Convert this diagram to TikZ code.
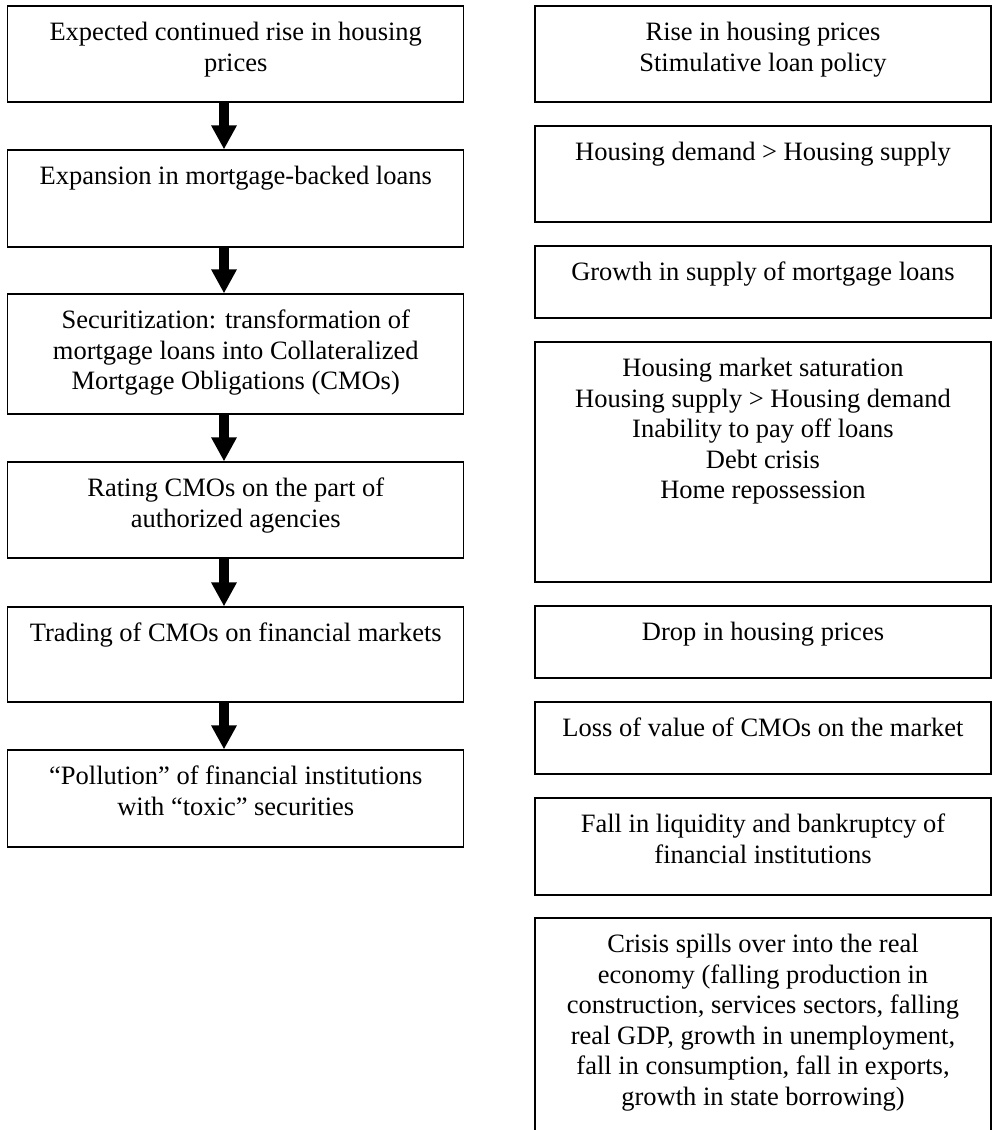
\documentclass[tikz,border=0pt]{standalone}
\usepackage{fontspec}
\setmainfont{Liberation Serif}
\usetikzlibrary{arrows.meta}
\begin{document}
\begin{tikzpicture}[x=1pt, y=-1pt,
    box/.style={draw, line width=1.2pt, rectangle, inner sep=0pt, minimum width=456pt},
    txt/.style={anchor=north, align=center, inner sep=0pt, font=\fontsize{26.5}{30.5}\selectfont},
    arr/.style={line width=10pt, -{Triangle[width=24pt, length=24pt]}}]
    \path[use as bounding box, clip] (0,0) rectangle (992,1130);
    % left column
    \node[box, minimum height=96pt] (l1) at (235.75,54) {};
    \node[box, minimum height=97pt] (l2) at (235.75,198.5) {};
    \node[box, minimum height=120pt] (l3) at (235.75,354) {};
    \node[box, minimum height=96pt] (l4) at (235.75,510) {};
    \node[box, minimum height=95pt] (l5) at (235.75,654.5) {};
    \node[box, minimum height=97pt] (l6) at (235.75,798.5) {};
    \node[txt] (l1t) at ([yshift=-13.65pt]l1.north) {\strut Expected continued rise in housing\\ prices};
    \node[txt] (l2t) at ([yshift=-13.65pt]l2.north) {\strut Expansion in mortgage-backed loans};
    \node[txt] (l3t) at ([yshift=-13.65pt]l3.north) {\strut Securitization: transformation of\\ mortgage loans into Collateralized\\ Mortgage Obligations (CMOs)};
    \node[txt] (l4t) at ([yshift=-13.65pt]l4.north) {\strut Rating CMOs on the part of\\ authorized agencies};
    \node[txt] (l5t) at ([yshift=-13.65pt]l5.north) {\strut Trading of CMOs on financial markets};
    \node[txt] (l6t) at ([yshift=-13.65pt]l6.north) {\strut ``Pollution'' of financial institutions\\ with ``toxic'' securities};
    \foreach \a/\b in {l1/l2, l2/l3, l3/l4, l4/l5, l5/l6}
        \draw[arr] ([xshift=-11.75pt]\a.south) -- ([xshift=-11.75pt]\b.north);
    % right column
    \node[box, minimum height=96pt] (r1) at (763,54) {};
    \node[box, minimum height=96pt] (r2) at (763,174) {};
    \node[box, minimum height=72pt] (r3) at (763,282) {};
    \node[box, minimum height=240pt] (r4) at (763,462) {};
    \node[box, minimum height=72pt] (r5) at (763,642) {};
    \node[box, minimum height=72pt] (r6) at (763,738) {};
    \node[box, minimum height=97pt] (r7) at (763,846.5) {};
    \node[box, minimum height=232pt] (r8) at (763,1034) {};
    \node[txt] (r1t) at ([yshift=-13.65pt]r1.north) {\strut Rise in housing prices\\ Stimulative loan policy};
    \node[txt] (r2t) at ([yshift=-13.65pt]r2.north) {\strut Housing demand > Housing supply};
    \node[txt] (r3t) at ([yshift=-13.65pt]r3.north) {\strut Growth in supply of mortgage loans};
    \node[txt] (r4t) at ([yshift=-13.65pt]r4.north) {\strut Housing market saturation\\ Housing supply > Housing demand\\ Inability to pay off loans\\ Debt crisis\\ Home repossession};
    \node[txt] (r5t) at ([yshift=-13.65pt]r5.north) {\strut Drop in housing prices};
    \node[txt] (r6t) at ([yshift=-13.65pt]r6.north) {\strut Loss of value of CMOs on the market};
    \node[txt] (r7t) at ([yshift=-13.65pt]r7.north) {\strut Fall in liquidity and bankruptcy of\\ financial institutions};
    \node[txt] (r8t) at ([yshift=-13.65pt]r8.north) {\strut Crisis spills over into the real\\ economy (falling production in\\ construction, services sectors, falling\\ real GDP, growth in unemployment,\\ fall in consumption, fall in exports,\\ growth in state borrowing)};
\end{tikzpicture}
\end{document}
